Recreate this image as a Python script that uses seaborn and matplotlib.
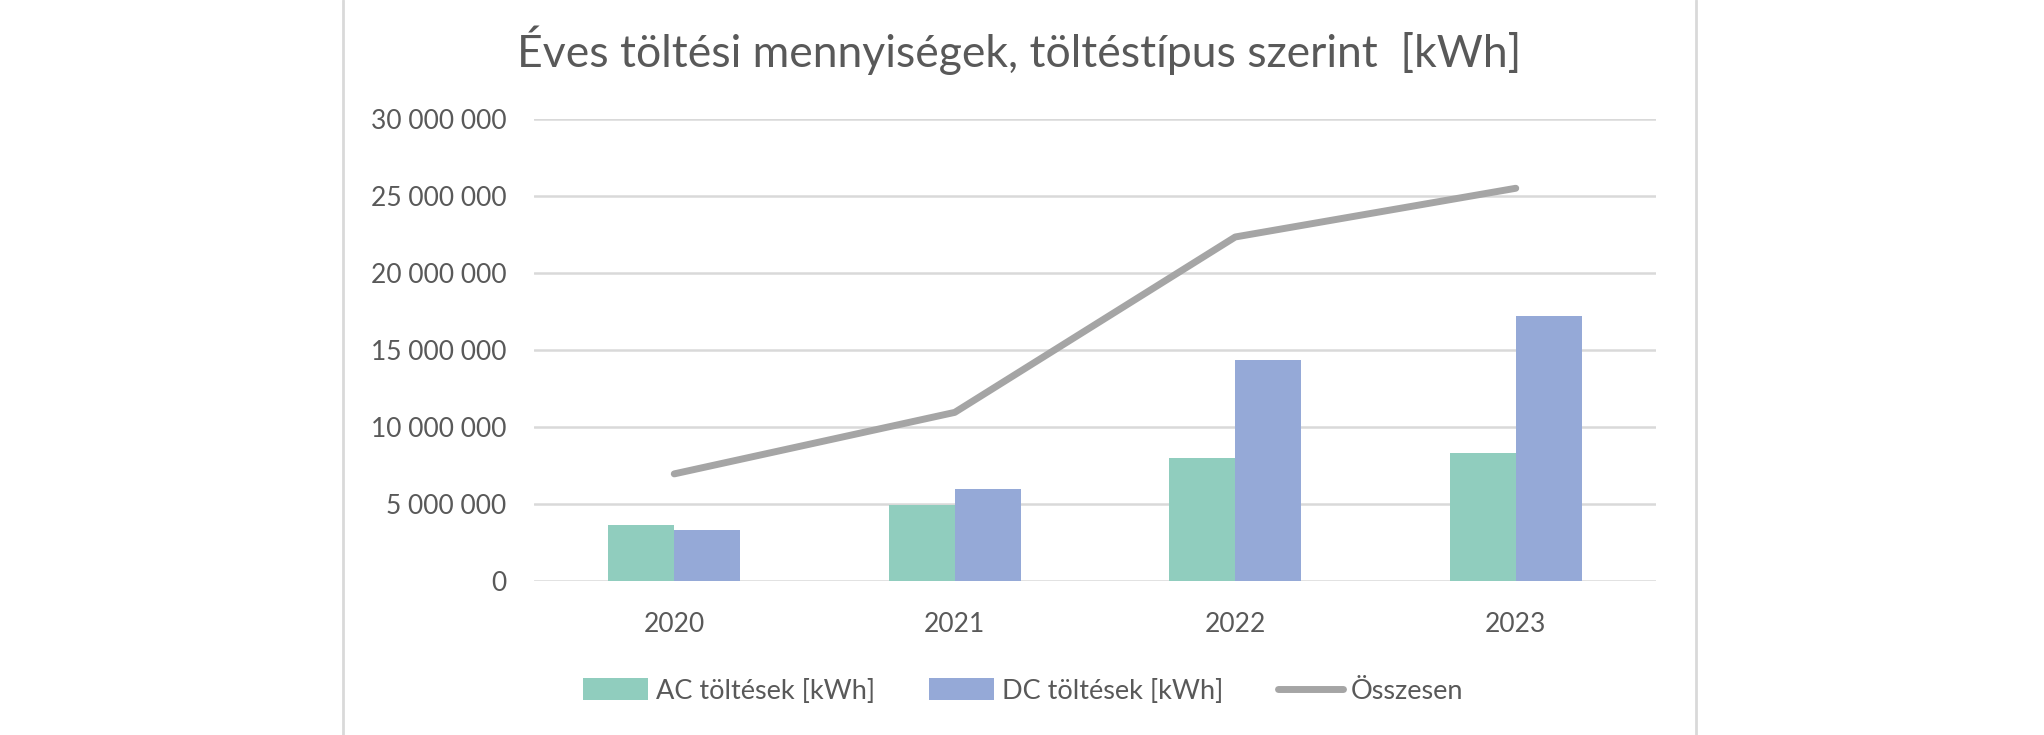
import pandas as pd
import matplotlib.pyplot as plt
import seaborn as sns
from matplotlib.ticker import FuncFormatter
from matplotlib.lines import Line2D

# Data (kWh)
years = ['2020', '2021', '2022', '2023']
ac_values = [3.63e6, 4.94e6, 7.97e6, 8.29e6]
dc_values = [3.32e6, 6.00e6, 14.35e6, 17.19e6]
total_values = [6.95e6, 10.94e6, 22.32e6, 25.48e6]
series_names = ['AC töltések [kWh]', 'DC töltések [kWh]', 'Összesen']

bars = pd.DataFrame({
    'year': years * 2,
    'value': ac_values + dc_values,
    'type': [series_names[0]] * 4 + [series_names[1]] * 4,
})

sns.set_theme(style='white')
plt.rcParams['font.family'] = ['Lato', 'DejaVu Sans']

text_color = '#595959'
grid_color = '#D9D9D9'

fig = plt.figure(figsize=(20.44, 7.35), dpi=100)
ax = fig.add_axes([534 / 2044, 1 - 581 / 735, 1122 / 2044, 462.4 / 735])

sns.barplot(data=bars, x='year', y='value', hue='type',
            palette=['#90CDBE', '#95A9D7'], saturation=1,
            width=0.47, linewidth=0, ax=ax)
sns.lineplot(x=list(range(len(years))), y=total_values, ax=ax,
             color='#A5A5A5', linewidth=5, label=series_names[2],
             solid_capstyle='round', solid_joinstyle='round')

ax.set_xlim(-0.5, 3.5)
ax.set_ylim(0, 30e6)
ax.set_yticks(range(0, 30000001, 5000000))
ax.yaxis.set_major_formatter(FuncFormatter(lambda v, p: f'{int(v):,}'.replace(',', ' ')))
ax.set_xlabel('')
ax.set_ylabel('')
ax.yaxis.grid(True, color=grid_color, linewidth=1.8)
ax.set_axisbelow(True)
for s in ax.spines.values():
    s.set_visible(False)
ax.tick_params(axis='y', length=0, pad=20, labelsize=19, labelcolor=text_color)
ax.tick_params(axis='x', length=0, pad=22, labelsize=19, labelcolor=text_color)

handles, labels = ax.get_legend_handles_labels()
ax.get_legend().remove()
fig.legend(handles, labels, loc='center', bbox_to_anchor=(1023 / 2044, 1 - 691 / 735),
           ncol=3, frameon=False, fontsize=19.5, labelcolor=text_color,
           handlelength=2.4, handleheight=0.85, handletextpad=0.3, columnspacing=2.0)

fig.text(1019 / 2044, 1 - 50 / 735, 'Éves töltési mennyiségek, töltéstípus szerint  [kWh]',
         ha='center', va='center', fontsize=32, color=text_color)

# chart area border (left and right edges)
for xpos in (343 / 2044, 1696 / 2044):
    fig.add_artist(Line2D([xpos, xpos], [0, 1], color=grid_color, linewidth=2))

fig.savefig('out.png', dpi=100)
